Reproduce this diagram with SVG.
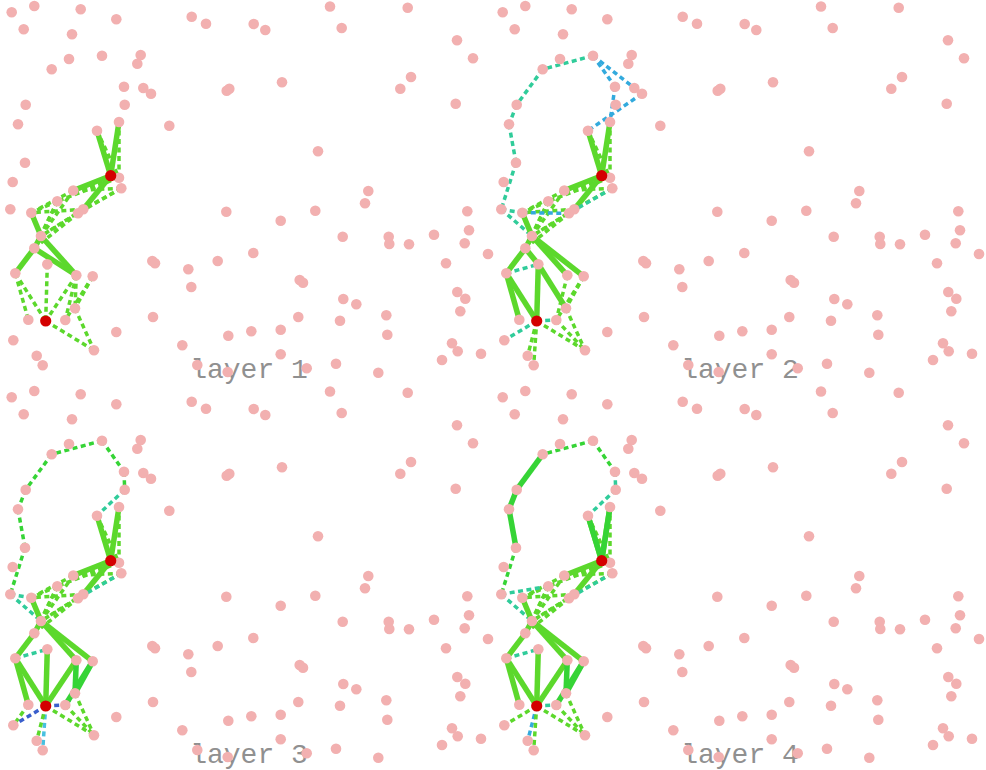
<svg xmlns="http://www.w3.org/2000/svg" xmlns:xlink="http://www.w3.org/1999/xlink" width="986" height="770" viewBox="0 0 986 770">
<style>
.pt{fill:#f2b0b0}
.red{fill:#d40000}
.lbl{font-family:"Liberation Mono","DejaVu Sans Mono",monospace;font-size:28px;fill:#909090;text-anchor:middle}
line{fill:none}
.s{stroke-width:5.5}
.d{stroke-width:3.5;stroke-dasharray:5 3.5}
.g{stroke:#5cd82c}
.g2{stroke:#36d436}
.t{stroke:#30cc9a}
.b{stroke:#33aadd}
.db{stroke:#3a5fcc}
.c{stroke:#48c0e0}
</style>
<defs>
<g id="points" class="pt">
<circle id="n1" cx="11.7" cy="12.3" r="5.3"/>
<circle id="n2" cx="34.3" cy="6" r="5.3"/>
<circle id="n3" cx="80.7" cy="9.3" r="5.3"/>
<circle id="n4" cx="116.3" cy="19.3" r="5.3"/>
<circle id="n5" cx="23.7" cy="29.3" r="5.3"/>
<circle id="n6" cx="72" cy="34.3" r="5.3"/>
<circle id="n7" cx="69" cy="59" r="5.3"/>
<circle id="n8" cx="51.7" cy="69.3" r="5.3"/>
<circle id="n9" cx="102" cy="55.7" r="5.3"/>
<circle id="n10" cx="140.7" cy="55" r="5.3"/>
<circle id="n11" cx="137.3" cy="63.7" r="5.3"/>
<circle id="n12" cx="124" cy="86.7" r="5.3"/>
<circle id="n13" cx="143.3" cy="88" r="5.3"/>
<circle id="n14" cx="151" cy="93.7" r="5.3"/>
<circle id="n15" cx="124.7" cy="104.7" r="5.3"/>
<circle id="n16" cx="25.7" cy="104.7" r="5.3"/>
<circle id="n17" cx="18" cy="124.3" r="5.3"/>
<circle id="n18" cx="119" cy="122" r="5.3"/>
<circle id="n19" cx="97" cy="130.7" r="5.3"/>
<circle id="n20" cx="25" cy="162.7" r="5.3"/>
<circle id="n21" cx="12.7" cy="182" r="5.3"/>
<circle id="n22" cx="119" cy="177.7" r="5.3"/>
<circle id="n23" cx="121.3" cy="188.3" r="5.3"/>
<circle id="n24" cx="73.3" cy="190.5" r="5.3"/>
<circle id="n25" cx="169.3" cy="125.7" r="5.3"/>
<circle id="n26" cx="191.7" cy="16.7" r="5.3"/>
<circle id="n27" cx="206" cy="23.7" r="5.3"/>
<circle id="n28" cx="253.7" cy="24" r="5.3"/>
<circle id="n29" cx="265.3" cy="30" r="5.3"/>
<circle id="n30" cx="330" cy="6.5" r="5.3"/>
<circle id="n31" cx="226.7" cy="90.7" r="5.3"/>
<circle id="n32" cx="229.3" cy="88.7" r="5.3"/>
<circle id="n33" cx="282" cy="82.3" r="5.3"/>
<circle id="n34" cx="318" cy="151.3" r="5.3"/>
<circle id="n35" cx="407.7" cy="7.7" r="5.3"/>
<circle id="n36" cx="341.7" cy="28" r="5.3"/>
<circle id="n37" cx="457" cy="40.3" r="5.3"/>
<circle id="n38" cx="473" cy="58.3" r="5.3"/>
<circle id="n39" cx="411" cy="77" r="5.3"/>
<circle id="n40" cx="400.3" cy="88.7" r="5.3"/>
<circle id="n41" cx="455.7" cy="103.7" r="5.3"/>
<circle id="n42" cx="368.3" cy="191" r="5.3"/>
<circle id="n43" cx="10.3" cy="209.3" r="5.3"/>
<circle id="n44" cx="31.3" cy="212.7" r="5.3"/>
<circle id="n45" cx="57.3" cy="201.3" r="5.3"/>
<circle id="n46" cx="78" cy="213.3" r="5.3"/>
<circle id="n47" cx="83.3" cy="209.3" r="5.3"/>
<circle id="n48" cx="41" cy="236" r="5.3"/>
<circle id="n49" cx="34.3" cy="248.3" r="5.3"/>
<circle id="n50" cx="47.3" cy="264.3" r="5.3"/>
<circle id="n51" cx="15.3" cy="273.3" r="5.3"/>
<circle id="n52" cx="76.3" cy="275.3" r="5.3"/>
<circle id="n53" cx="92.7" cy="276.3" r="5.3"/>
<circle id="n54" cx="75" cy="308.3" r="5.3"/>
<circle id="n55" cx="28.3" cy="319.7" r="5.3"/>
<circle id="n56" cx="65.3" cy="320" r="5.3"/>
<circle id="n57" cx="13.3" cy="340.3" r="5.3"/>
<circle id="n58" cx="94" cy="350.3" r="5.3"/>
<circle id="n59" cx="36.7" cy="355.7" r="5.3"/>
<circle id="n60" cx="42.7" cy="365.3" r="5.3"/>
<circle id="n61" cx="152.3" cy="261" r="5.3"/>
<circle id="n62" cx="155" cy="263.3" r="5.3"/>
<circle id="n63" cx="153" cy="317" r="5.3"/>
<circle id="n64" cx="116.3" cy="332" r="5.3"/>
<circle id="n65" cx="226.3" cy="211.7" r="5.3"/>
<circle id="n66" cx="280.7" cy="220.7" r="5.3"/>
<circle id="n67" cx="315.3" cy="210.7" r="5.3"/>
<circle id="n68" cx="253.3" cy="253" r="5.3"/>
<circle id="n69" cx="217.7" cy="261" r="5.3"/>
<circle id="n70" cx="188.3" cy="269.3" r="5.3"/>
<circle id="n71" cx="191.3" cy="287" r="5.3"/>
<circle id="n72" cx="299.7" cy="280" r="5.3"/>
<circle id="n73" cx="303" cy="282.7" r="5.3"/>
<circle id="n74" cx="298.3" cy="317" r="5.3"/>
<circle id="n75" cx="280.7" cy="329.7" r="5.3"/>
<circle id="n76" cx="251.3" cy="331.3" r="5.3"/>
<circle id="n77" cx="228.3" cy="335.7" r="5.3"/>
<circle id="n78" cx="182.3" cy="345.3" r="5.3"/>
<circle id="n79" cx="280.7" cy="354.3" r="5.3"/>
<circle id="n80" cx="197.3" cy="365" r="5.3"/>
<circle id="n81" cx="227.7" cy="372" r="5.3"/>
<circle id="n82" cx="306.7" cy="368.3" r="5.3"/>
<circle id="n83" cx="365" cy="203.3" r="5.3"/>
<circle id="n84" cx="467.3" cy="211.3" r="5.3"/>
<circle id="n85" cx="342.7" cy="236.7" r="5.3"/>
<circle id="n86" cx="388.7" cy="236.7" r="5.3"/>
<circle id="n87" cx="389.3" cy="244" r="5.3"/>
<circle id="n88" cx="409" cy="244.3" r="5.3"/>
<circle id="n89" cx="434" cy="234.7" r="5.3"/>
<circle id="n90" cx="469" cy="230.3" r="5.3"/>
<circle id="n91" cx="464.7" cy="243.3" r="5.3"/>
<circle id="n92" cx="488" cy="254" r="5.3"/>
<circle id="n93" cx="446" cy="263.3" r="5.3"/>
<circle id="n94" cx="343.3" cy="299" r="5.3"/>
<circle id="n95" cx="356.3" cy="304.3" r="5.3"/>
<circle id="n96" cx="457.3" cy="292" r="5.3"/>
<circle id="n97" cx="465.3" cy="298.7" r="5.3"/>
<circle id="n98" cx="460.3" cy="311.3" r="5.3"/>
<circle id="n99" cx="340" cy="320.7" r="5.3"/>
<circle id="n100" cx="386.3" cy="315.3" r="5.3"/>
<circle id="n101" cx="387.3" cy="334.7" r="5.3"/>
<circle id="n102" cx="452" cy="343.3" r="5.3"/>
<circle id="n103" cx="457.7" cy="351.3" r="5.3"/>
<circle id="n104" cx="481" cy="353.7" r="5.3"/>
<circle id="n105" cx="442" cy="360" r="5.3"/>
<circle id="n106" cx="336" cy="363.7" r="5.3"/>
<circle id="n107" cx="378.3" cy="372.7" r="5.3"/>
</g>
<g id="reds" class="red">
<circle id="r1" cx="110.7" cy="175.7" r="5.6"/>
<circle id="r2" cx="45.7" cy="321" r="5.6"/>
</g>
<g id="topcluster">
<line class="d g" x1="97" y1="130.7" x2="119" y2="177.7"/>
<line class="d g" x1="119" y1="122" x2="119" y2="177.7"/>
<line class="d g" x1="119" y1="177.7" x2="73.3" y2="190.5"/>
<line class="d g" x1="121.3" y1="188.3" x2="83.3" y2="209.3"/>
<line class="d g" x1="119" y1="177.7" x2="57.3" y2="201.3"/>
<line class="d g" x1="121.3" y1="188.3" x2="73.3" y2="190.5"/>
<line class="d g" x1="73.3" y1="190.5" x2="31.3" y2="212.7"/>
<line class="d g" x1="73.3" y1="190.5" x2="41" y2="236"/>
<line class="d g" x1="57.3" y1="201.3" x2="41" y2="236"/>
<line class="d g" x1="57.3" y1="201.3" x2="31.3" y2="212.7"/>
<line class="d g" x1="78" y1="213.3" x2="41" y2="236"/>
<line class="d g" x1="83.3" y1="209.3" x2="41" y2="236"/>
<line class="d g" x1="78" y1="213.3" x2="34.3" y2="248.3"/>
<line class="d g" x1="57.3" y1="201.3" x2="34.3" y2="248.3"/>
<line class="d g" x1="83.3" y1="209.3" x2="31.3" y2="212.7"/>
<line class="s g" x1="110.7" y1="175.7" x2="97" y2="130.7"/>
<line class="s g" x1="110.7" y1="175.7" x2="119" y2="122"/>
<line class="s g" x1="110.7" y1="175.7" x2="73.3" y2="190.5"/>
<line class="s g" x1="110.7" y1="175.7" x2="83.3" y2="209.3"/>
</g>
</defs>

<g id="panel1">
<text class="lbl" x="249" y="378">layer 1</text>
<g id="connectors1">
<use xlink:href="#topcluster"/>
<line class="d g" x1="121.3" y1="188.3" x2="78" y2="213.3"/>
<line class="s g" x1="31.3" y1="212.7" x2="41" y2="236"/>
<line class="s g" x1="41" y1="236" x2="76.3" y2="275.3"/>
<line class="s g" x1="34.3" y1="248.3" x2="76.3" y2="275.3"/>
<line class="s g" x1="34.3" y1="248.3" x2="15.3" y2="273.3"/>
<line class="s g" x1="41" y1="236" x2="34.3" y2="248.3"/>
<line class="d g" x1="15.3" y1="273.3" x2="28.3" y2="319.7"/>
<line class="d g" x1="15.3" y1="273.3" x2="45.7" y2="321"/>
<line class="d g" x1="47.3" y1="264.3" x2="45.7" y2="321"/>
<line class="d g" x1="76.3" y1="275.3" x2="45.7" y2="321"/>
<line class="d g" x1="76.3" y1="275.3" x2="65.3" y2="320"/>
<line class="d g" x1="92.7" y1="276.3" x2="65.3" y2="320"/>
<line class="d g" x1="92.7" y1="276.3" x2="75" y2="308.3"/>
<line class="d g" x1="76.3" y1="275.3" x2="75" y2="308.3"/>
<line class="d g" x1="75" y1="308.3" x2="94" y2="350.3"/>
<line class="d g" x1="45.7" y1="321" x2="94" y2="350.3"/>
</g>
<use xlink:href="#points"/>
<use xlink:href="#reds"/>
</g>

<g id="panel2" transform="translate(491,0)">
<text class="lbl" x="249" y="378">layer 2</text>
<g id="connectors2">
<line class="d t" x1="102" y1="55.7" x2="51.7" y2="69.3"/>
<line class="d t" x1="51.7" y1="69.3" x2="25.7" y2="104.7"/>
<line class="d t" x1="25.7" y1="104.7" x2="18" y2="124.3"/>
<line class="d t" x1="18" y1="124.3" x2="25" y2="162.7"/>
<line class="d t" x1="25" y1="162.7" x2="10.3" y2="209.3"/>
<line class="d b" x1="102" y1="55.7" x2="124" y2="86.7"/>
<line class="d b" x1="102" y1="55.7" x2="143.3" y2="88"/>
<line class="d b" x1="151" y1="93.7" x2="97" y2="130.7"/>
<line class="d b" x1="124" y1="86.7" x2="119" y2="122"/>
<use xlink:href="#topcluster"/>
<line class="d t" x1="121.3" y1="188.3" x2="78" y2="213.3"/>
<line class="d b" x1="31.3" y1="212.7" x2="78" y2="213.3"/>
<line class="d t" x1="10.3" y1="209.3" x2="31.3" y2="212.7"/>
<line class="d t" x1="10.3" y1="209.3" x2="41" y2="236"/>
<line class="d t" x1="15.3" y1="273.3" x2="47.3" y2="264.3"/>
<line class="d t" x1="45.7" y1="321" x2="13.3" y2="340.3"/>
<line class="d g" x1="76.3" y1="275.3" x2="65.3" y2="320"/>
<line class="d g" x1="92.7" y1="276.3" x2="75" y2="308.3"/>
<line class="d g" x1="92.7" y1="276.3" x2="65.3" y2="320"/>
<line class="d g" x1="75" y1="308.3" x2="94" y2="350.3"/>
<line class="d g" x1="45.7" y1="321" x2="94" y2="350.3"/>
<line class="d g" x1="65.3" y1="320" x2="94" y2="350.3"/>
<line class="d g" x1="45.7" y1="321" x2="36.7" y2="355.7"/>
<line class="d g" x1="45.7" y1="321" x2="42.7" y2="365.3"/>
<line class="d t" x1="45.7" y1="321" x2="65.3" y2="320"/>
<line class="s g" x1="31.3" y1="212.7" x2="41" y2="236"/>
<line class="s g" x1="41" y1="236" x2="76.3" y2="275.3"/>
<line class="s g" x1="41" y1="236" x2="92.7" y2="276.3"/>
<line class="s g" x1="41" y1="236" x2="34.3" y2="248.3"/>
<line class="s g" x1="34.3" y1="248.3" x2="47.3" y2="264.3"/>
<line class="s g" x1="34.3" y1="248.3" x2="15.3" y2="273.3"/>
<line class="s g" x1="15.3" y1="273.3" x2="28.3" y2="319.7"/>
<line class="s g" x1="15.3" y1="273.3" x2="45.7" y2="321"/>
<line class="s g" x1="47.3" y1="264.3" x2="45.7" y2="321"/>
<line class="s g" x1="47.3" y1="264.3" x2="75" y2="308.3"/>
</g>
<use xlink:href="#points"/>
<use xlink:href="#reds"/>
</g>

<g id="panel3" transform="translate(0,385)">
<text class="lbl" x="249" y="378">layer 3</text>
<g id="connectors3">
<line class="d g2" x1="102" y1="55.7" x2="51.7" y2="69.3"/>
<line class="d g2" x1="51.7" y1="69.3" x2="25.7" y2="104.7"/>
<line class="d g2" x1="25.7" y1="104.7" x2="18" y2="124.3"/>
<line class="d g2" x1="18" y1="124.3" x2="25" y2="162.7"/>
<line class="d g2" x1="25" y1="162.7" x2="10.3" y2="209.3"/>
<line class="d g2" x1="102" y1="55.7" x2="124" y2="86.7"/>
<line class="d g2" x1="124" y1="86.7" x2="124.7" y2="104.7"/>
<line class="d t" x1="124.7" y1="104.7" x2="97" y2="130.7"/>
<use xlink:href="#topcluster"/>
<line class="d t" x1="121.3" y1="188.3" x2="78" y2="213.3"/>
<line class="d t" x1="10.3" y1="209.3" x2="31.3" y2="212.7"/>
<line class="d t" x1="10.3" y1="209.3" x2="41" y2="236"/>
<line class="d t" x1="15.3" y1="273.3" x2="47.3" y2="264.3"/>
<line class="d db" x1="45.7" y1="321" x2="13.3" y2="340.3"/>
<line class="d db" x1="45.7" y1="321" x2="65.3" y2="320"/>
<line class="d db" x1="75" y1="308.3" x2="65.3" y2="320"/>
<line class="d c" x1="45.7" y1="321" x2="42.7" y2="365.3"/>
<line class="d g" x1="45.7" y1="321" x2="36.7" y2="355.7"/>
<line class="d g" x1="45.7" y1="321" x2="94" y2="350.3"/>
<line class="d g" x1="65.3" y1="320" x2="94" y2="350.3"/>
<line class="d g" x1="75" y1="308.3" x2="94" y2="350.3"/>
<line class="d g" x1="28.3" y1="319.7" x2="13.3" y2="340.3"/>
<line class="s g" x1="31.3" y1="212.7" x2="41" y2="236"/>
<line class="s g" x1="41" y1="236" x2="76.3" y2="275.3"/>
<line class="s g" x1="41" y1="236" x2="92.7" y2="276.3"/>
<line class="s g" x1="41" y1="236" x2="34.3" y2="248.3"/>
<line class="s g" x1="34.3" y1="248.3" x2="15.3" y2="273.3"/>
<line class="s g" x1="15.3" y1="273.3" x2="28.3" y2="319.7"/>
<line class="s g" x1="15.3" y1="273.3" x2="45.7" y2="321"/>
<line class="s g" x1="47.3" y1="264.3" x2="45.7" y2="321"/>
<line class="s g" x1="76.3" y1="275.3" x2="45.7" y2="321"/>
<line class="s g2" x1="76.3" y1="275.3" x2="75" y2="308.3"/>
<line class="s g2" x1="92.7" y1="276.3" x2="75" y2="308.3"/>
<line class="s g2" x1="92.7" y1="276.3" x2="65.3" y2="320"/>
</g>
<use xlink:href="#points"/>
<use xlink:href="#reds"/>
</g>

<g id="panel4" transform="translate(491,385)">
<text class="lbl" x="249" y="378">layer 4</text>
<g id="connectors4">
<line class="d g2" x1="102" y1="55.7" x2="51.7" y2="69.3"/>
<line class="s g2" x1="51.7" y1="69.3" x2="25.7" y2="104.7"/>
<line class="s g2" x1="25.7" y1="104.7" x2="18" y2="124.3"/>
<line class="s g2" x1="18" y1="124.3" x2="25" y2="162.7"/>
<line class="d g2" x1="25" y1="162.7" x2="10.3" y2="209.3"/>
<line class="d g2" x1="102" y1="55.7" x2="124" y2="86.7"/>
<line class="d t" x1="124" y1="86.7" x2="124.7" y2="104.7"/>
<line class="d t" x1="124.7" y1="104.7" x2="97" y2="130.7"/>
<use xlink:href="#topcluster"/>
<line class="s g2" x1="110.7" y1="175.7" x2="97" y2="130.7"/>
<line class="s g2" x1="110.7" y1="175.7" x2="119" y2="122"/>
<line class="d t" x1="121.3" y1="188.3" x2="78" y2="213.3"/>
<line class="d t" x1="10.3" y1="209.3" x2="57.3" y2="201.3"/>
<line class="d t" x1="10.3" y1="209.3" x2="41" y2="236"/>
<line class="d t" x1="15.3" y1="273.3" x2="47.3" y2="264.3"/>
<line class="d g" x1="45.7" y1="321" x2="13.3" y2="340.3"/>
<line class="d b" x1="45.7" y1="321" x2="36.7" y2="355.7"/>
<line class="d g" x1="45.7" y1="321" x2="42.7" y2="365.3"/>
<line class="d g" x1="45.7" y1="321" x2="94" y2="350.3"/>
<line class="d g" x1="65.3" y1="320" x2="94" y2="350.3"/>
<line class="d g" x1="75" y1="308.3" x2="94" y2="350.3"/>
<line class="d t" x1="45.7" y1="321" x2="65.3" y2="320"/>
<line class="s g" x1="31.3" y1="212.7" x2="41" y2="236"/>
<line class="s g" x1="41" y1="236" x2="76.3" y2="275.3"/>
<line class="s g" x1="41" y1="236" x2="92.7" y2="276.3"/>
<line class="s g" x1="41" y1="236" x2="34.3" y2="248.3"/>
<line class="s g" x1="34.3" y1="248.3" x2="15.3" y2="273.3"/>
<line class="s g" x1="15.3" y1="273.3" x2="28.3" y2="319.7"/>
<line class="s g" x1="15.3" y1="273.3" x2="45.7" y2="321"/>
<line class="s g" x1="47.3" y1="264.3" x2="45.7" y2="321"/>
<line class="s g" x1="76.3" y1="275.3" x2="45.7" y2="321"/>
<line class="s g2" x1="76.3" y1="275.3" x2="75" y2="308.3"/>
<line class="s g2" x1="92.7" y1="276.3" x2="75" y2="308.3"/>
<line class="s g2" x1="92.7" y1="276.3" x2="65.3" y2="320"/>
</g>
<use xlink:href="#points"/>
<use xlink:href="#reds"/>
</g>
</svg>
